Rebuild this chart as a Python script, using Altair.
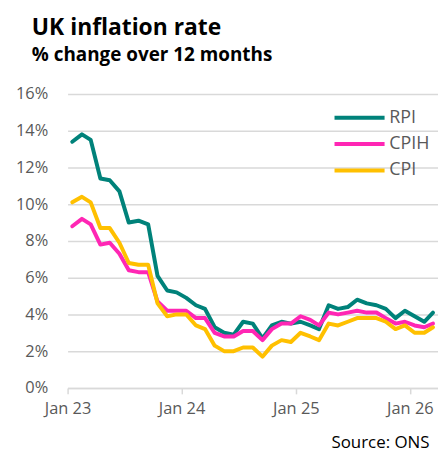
import altair as alt
import pandas as pd

# Monthly observations, Jan 2023 – Mar 2026 (% change over 12 months)
month_starts = pd.date_range("2023-01-01", periods=39, freq="MS")

rpi = [13.4, 13.8, 13.5, 11.4, 11.3, 10.7, 9.0, 9.1, 8.9, 6.1, 5.3, 5.2,
       4.9, 4.5, 4.3, 3.3, 3.0, 2.9, 3.6, 3.5, 2.7, 3.4, 3.6, 3.5,
       3.6, 3.4, 3.2, 4.5, 4.3, 4.4, 4.8, 4.6, 4.5, 4.3, 3.8, 4.2,
       3.9, 3.6, 4.1]
cpih = [8.8, 9.2, 8.9, 7.8, 7.9, 7.3, 6.4, 6.3, 6.3, 4.7, 4.2, 4.2,
        4.2, 3.8, 3.8, 3.0, 2.8, 2.8, 3.1, 3.1, 2.6, 3.2, 3.5, 3.5,
        3.9, 3.7, 3.4, 4.1, 4.0, 4.1, 4.2, 4.1, 4.1, 3.8, 3.5, 3.6,
        3.4, 3.3, 3.5]
cpi = [10.1, 10.4, 10.1, 8.7, 8.7, 7.9, 6.8, 6.7, 6.7, 4.6, 3.9, 4.0,
       4.0, 3.4, 3.2, 2.3, 2.0, 2.0, 2.2, 2.2, 1.7, 2.3, 2.6, 2.5,
       3.0, 2.8, 2.6, 3.5, 3.4, 3.6, 3.8, 3.8, 3.8, 3.6, 3.2, 3.4,
       3.0, 3.0, 3.3]

series_names = ["RPI", "CPIH", "CPI"]
series_colors = ["#00827A", "#FF26B4", "#FFC000"]
y_ticks = [0, 2, 4, 6, 8, 10, 12, 14, 16]
x_tick_years = [2023, 2024, 2025, 2026]

rows = []
for name, vals in zip(series_names, [rpi, cpih, cpi]):
    for d, v in zip(month_starts, vals):
        mid = d + pd.Timedelta(days=15)
        rows.append({"date": mid.strftime("%Y-%m-%dT00:00:00"), "series": name, "value": v})
df = pd.DataFrame(rows)

FONT = "Open Sans"
GRID = "#d9d9d9"
LABEL = "#595959"

x_axis = alt.Axis(
    values=[alt.DateTime(year=y, month=1, date=1) for y in x_tick_years],
    format="%b %y", formatType="time", labelFlush=False,
    grid=False, domainColor=GRID, domainWidth=1.5,
    tickColor=GRID, tickWidth=1.5, tickSize=6,
    labelFont=FONT, labelFontSize=16.5, labelColor=LABEL, labelPadding=7,
    title="Source: ONS", titleFont=FONT, titleFontSize=17, titleFontWeight="normal",
    titleColor="#000000", titleAlign="right", titleX=364, titleY=60, titleBaseline="alphabetic",
)
y_axis = alt.Axis(
    values=y_ticks, labelExpr="datum.value + '%'",
    domain=False, ticks=False,
    gridColor=GRID, gridWidth=1.5,
    labelFont=FONT, labelFontSize=16.5, labelColor=LABEL, labelPadding=20,
    title=None,
)

legend = alt.Legend(
    orient="none", legendX=280, legendY=10, title=None,
    symbolType="M-2.1,0L2.1,0", symbolSize=576, symbolStrokeWidth=4,
    labelFont=FONT, labelFontSize=18, labelColor=LABEL, labelOffset=16,
    rowPadding=3.5, padding=0,
)

chart = alt.Chart(df).mark_line(strokeWidth=4, strokeJoin="round", strokeCap="round").encode(
    x=alt.X("date:T", axis=x_axis,
            scale=alt.Scale(domain=[alt.DateTime(year=2023, month=1, date=1),
                                    alt.DateTime(year=2026, month=4, date=1)])),
    y=alt.Y("value:Q", axis=y_axis, scale=alt.Scale(domain=[0, 16])),
    color=alt.Color("series:N", legend=legend,
                    scale=alt.Scale(domain=series_names, range=series_colors),
                    sort=series_names),
).properties(
    width=373, height=296,
    padding={"left": 60, "top": 85, "right": 0, "bottom": 64},
    autosize=alt.AutoSizeParams(type="none"),
    title=alt.TitleParams(
        "UK inflation rate", subtitle="% change over 12 months",
        anchor="start", frame="group", dx=-36, offset=21,
        font=FONT, fontSize=23, fontWeight="bold", color="#000000",
        subtitleFont=FONT, subtitleFontSize=19, subtitleFontWeight="bold",
        subtitleColor="#000000", subtitlePadding=6,
    ),
).configure_view(stroke=None)

chart.save("out.html", embed_options={"renderer": "svg", "actions": False})
